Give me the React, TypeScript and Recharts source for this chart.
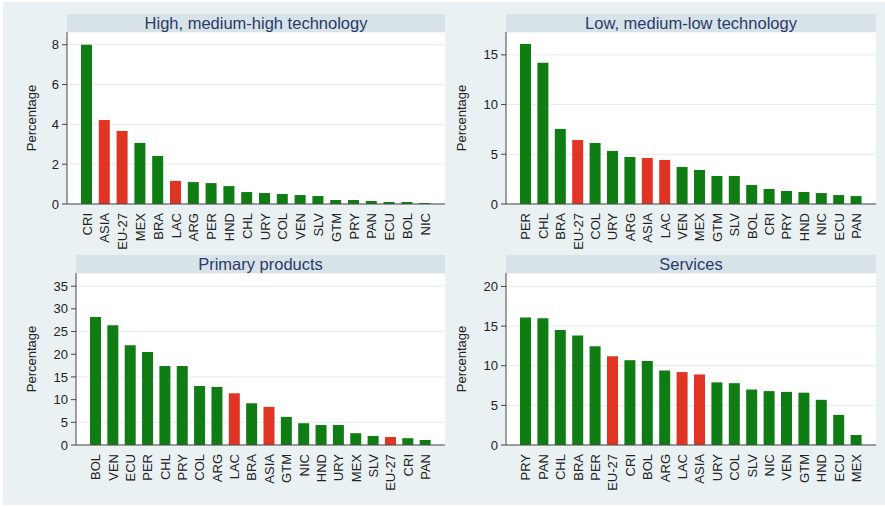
import { BarChart, Bar, XAxis, YAxis, CartesianGrid, Cell } from 'recharts';

// Panel 1: High, medium-high technology
const highTechCountries = ['CRI', 'ASIA', 'EU-27', 'MEX', 'BRA', 'LAC', 'ARG', 'PER', 'HND', 'CHL', 'URY', 'COL', 'VEN', 'SLV', 'GTM', 'PRY', 'PAN', 'ECU', 'BOL', 'NIC'];
const highTechValues = [8.0, 4.22, 3.67, 3.07, 2.41, 1.16, 1.1, 1.05, 0.9, 0.6, 0.55, 0.5, 0.45, 0.4, 0.2, 0.2, 0.15, 0.1, 0.1, 0.05];
const highTechTicks = [0, 2, 4, 6, 8];

// Panel 2: Low, medium-low technology
const lowTechCountries = ['PER', 'CHL', 'BRA', 'EU-27', 'COL', 'URY', 'ARG', 'ASIA', 'LAC', 'VEN', 'MEX', 'GTM', 'SLV', 'BOL', 'CRI', 'PRY', 'HND', 'NIC', 'ECU', 'PAN'];
const lowTechValues = [16.1, 14.2, 7.55, 6.44, 6.14, 5.34, 4.73, 4.63, 4.43, 3.73, 3.42, 2.82, 2.82, 1.91, 1.51, 1.31, 1.21, 1.1, 0.9, 0.8];
const lowTechTicks = [0, 5, 10, 15];

// Panel 3: Primary products
const primaryCountries = ['BOL', 'VEN', 'ECU', 'PER', 'CHL', 'PRY', 'COL', 'ARG', 'LAC', 'BRA', 'ASIA', 'GTM', 'NIC', 'HND', 'URY', 'MEX', 'SLV', 'EU-27', 'CRI', 'PAN'];
const primaryValues = [28.2, 26.4, 22.0, 20.5, 17.4, 17.4, 13.0, 12.8, 11.4, 9.2, 8.4, 6.2, 4.8, 4.4, 4.4, 2.6, 2.0, 1.76, 1.5, 1.1];
const primaryTicks = [0, 5, 10, 15, 20, 25, 30, 35];

// Panel 4: Services
const servicesCountries = ['PRY', 'PAN', 'CHL', 'BRA', 'PER', 'EU-27', 'CRI', 'BOL', 'ARG', 'LAC', 'ASIA', 'URY', 'COL', 'SLV', 'NIC', 'VEN', 'GTM', 'HND', 'ECU', 'MEX'];
const servicesValues = [16.1, 16.0, 14.5, 13.8, 12.45, 11.2, 10.7, 10.6, 9.4, 9.2, 8.9, 7.9, 7.8, 7.0, 6.8, 6.7, 6.6, 5.7, 3.8, 1.26];
const servicesTicks = [0, 5, 10, 15, 20];

const aggregates = ['ASIA', 'EU-27', 'LAC'];

const GREEN = '#107C14';
const RED = '#E03424';
const FONT = '"Liberation Sans", Arial, Helvetica, sans-serif';
const PLOT_H = 172;

interface PanelProps {
  title: string;
  countries: string[];
  values: number[];
  ticks: number[];
  yMax: number;
  chartLeft: number;
  axisX: number;
  plotRight: number;
  plotTop: number;
  labelX: number;
}

const CountryTick = (props: any) => {
  const { x, y, payload } = props;
  return (
    <text
      x={x}
      y={y}
      dy="0.36em"
      transform={`rotate(-90, ${x}, ${y})`}
      textAnchor="end"
      fontSize={13}
      fill="#222"
      fontFamily={FONT}
    >
      {payload.value}
    </text>
  );
};

const Panel = ({ title, countries, values, ticks, yMax, chartLeft, axisX, plotRight, plotTop, labelX }: PanelProps) => {
  const data = countries.map((c, i) => ({ country: c, value: values[i] }));
  const width = plotRight - chartLeft;

  return (
    <>
      <div
        style={{
          position: 'absolute',
          left: axisX,
          top: plotTop - 18,
          width: plotRight - axisX,
          height: 18,
          background: '#D7E3E9',
          color: '#2B3A67',
          fontFamily: FONT,
          fontSize: 16.5,
          lineHeight: '18px',
          textAlign: 'center',
        }}
      >
        {title}
      </div>
      <div style={{ position: 'absolute', left: chartLeft, top: plotTop }}>
        <BarChart
          width={width}
          height={PLOT_H + 60}
          data={data}
          margin={{ top: 0, right: 0, bottom: 0, left: 0 }}
          barSize={11}
        >
          <CartesianGrid vertical={false} stroke="#E3ECEF" fill="#ffffff" fillOpacity={1} />
          <XAxis
            dataKey="country"
            interval={0}
            height={60}
            tickLine={false}
            tickSize={0}
            tickMargin={9}
            tick={<CountryTick />}
            padding={{ left: 11, right: 11 }}
            axisLine={{ stroke: '#444', strokeWidth: 1 }}
          />
          <YAxis
            type="number"
            domain={[0, yMax]}
            ticks={ticks}
            width={axisX - chartLeft}
            tickSize={5}
            tickMargin={3}
            tickLine={{ stroke: '#444' }}
            axisLine={{ stroke: '#444', strokeWidth: 1 }}
            tick={{ fontSize: 13, fill: '#222', fontFamily: FONT }}
            label={{
              content: (p: any) => {
                const vb = p.viewBox || {};
                const cx = labelX - chartLeft;
                const cy = (vb.y ?? 0) + (vb.height ?? PLOT_H) / 2;
                return (
                  <text
                    x={cx}
                    y={cy}
                    transform={`rotate(-90, ${cx}, ${cy})`}
                    textAnchor="middle"
                    dy="0.36em"
                    fontSize={13}
                    fill="#222"
                    fontFamily={FONT}
                  >
                    Percentage
                  </text>
                );
              },
            }}
          />
          <Bar dataKey="value" isAnimationActive={false}>
            {data.map((d) => (
              <Cell key={d.country} fill={aggregates.includes(d.country) ? RED : GREEN} />
            ))}
          </Bar>
        </BarChart>
      </div>
    </>
  );
};

export default function App() {
  return (
    <div style={{ position: 'absolute', left: 0, top: 0, width: 885, height: 507, background: '#ffffff', overflow: 'hidden' }}>
      <div style={{ position: 'absolute', left: 3, top: 2, width: 882, height: 503, background: '#EAF1F3' }} />
      <Panel
        title="High, medium-high technology"
        countries={highTechCountries}
        values={highTechValues}
        ticks={highTechTicks}
        yMax={8.64}
        chartLeft={0}
        axisX={67}
        plotRight={445}
        plotTop={32}
        labelX={31}
      />
      <Panel
        title="Low, medium-low technology"
        countries={lowTechCountries}
        values={lowTechValues}
        ticks={lowTechTicks}
        yMax={17.3}
        chartLeft={446}
        axisX={506}
        plotRight={876}
        plotTop={32}
        labelX={461}
      />
      <Panel
        title="Primary products"
        countries={primaryCountries}
        values={primaryValues}
        ticks={primaryTicks}
        yMax={37.9}
        chartLeft={0}
        axisX={76}
        plotRight={445}
        plotTop={273}
        labelX={31}
      />
      <Panel
        title="Services"
        countries={servicesCountries}
        values={servicesValues}
        ticks={servicesTicks}
        yMax={21.7}
        chartLeft={446}
        axisX={506}
        plotRight={876}
        plotTop={273}
        labelX={461}
      />
    </div>
  );
}
